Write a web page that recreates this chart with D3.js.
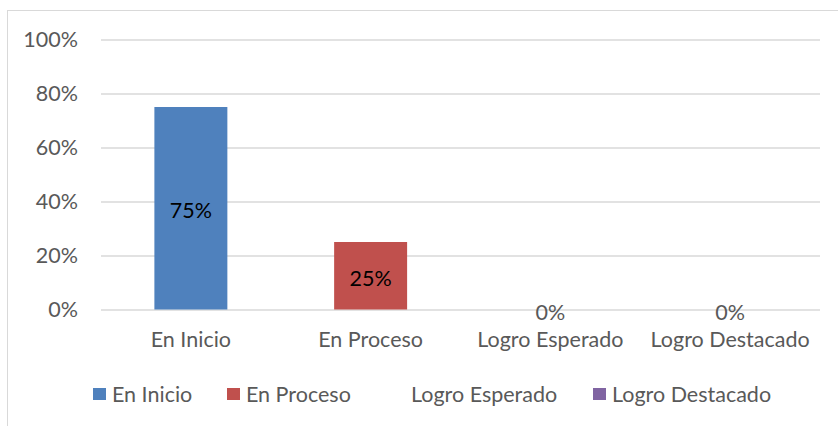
<!DOCTYPE html>
<html>
<head>
<meta charset="utf-8">
<script src="https://cdn.jsdelivr.net/npm/d3@7"></script>
<style>
  body { margin: 0; background: #fff; }
  text { font-family: Lato, "Open Sans", sans-serif; }
</style>
</head>
<body>
<div id="chart"></div>
<script>
// data
var categories = ["En Inicio", "En Proceso", "Logro Esperado", "Logro Destacado"];
var values = [0.75, 0.25, 0, 0];
var colors = ["#4f81bd", "#c0504d", "#ffffff", "#8064a2"];
var yTicks = [0, 0.2, 0.4, 0.6, 0.8, 1.0];

var svgWidth = 838, svgHeight = 426;
var margin = {top: 39.5, right: 18, bottom: 116.5, left: 101};
var chartWidth = svgWidth - margin.left - margin.right;
var chartHeight = svgHeight - margin.top - margin.bottom;
var fontSize = "21.5px";

var svg = d3.select("#chart").append("svg")
  .attr("width", svgWidth)
  .attr("height", svgHeight);

// chart frame (only left and top edges fall inside the picture)
svg.append("rect")
  .attr("x", 7.5).attr("y", 10.5)
  .attr("width", 900).attr("height", 600)
  .attr("fill", "none")
  .attr("stroke", "#d9d9d9");

var chart = svg.append("g")
  .attr("transform", "translate(" + margin.left + "," + margin.top + ")");

var x = d3.scaleBand().domain(categories).range([0, chartWidth]).paddingInner(0.594).paddingOuter(0.297);
var y = d3.scaleLinear().domain([0, 1]).range([chartHeight, 0]);

// gridlines
chart.append("g").selectAll("line")
  .data(yTicks)
  .enter().append("line")
  .attr("x1", 0).attr("x2", chartWidth)
  .attr("y1", function(d) { return Math.round(y(d)) + 0.5; })
  .attr("y2", function(d) { return Math.round(y(d)) + 0.5; })
  .attr("stroke", "#d9d9d9")
  .attr("stroke-width", 1.3);

// y axis labels
var leftAxis = d3.axisLeft(y).tickValues(yTicks).tickFormat(d3.format(".0%")).tickSize(0).tickPadding(23);
var yAxis = chart.append("g").call(leftAxis);
yAxis.select(".domain").remove();
yAxis.selectAll("text")
  .attr("fill", "#595959")
  .style("font-size", fontSize)
  .style("font-family", "Lato, 'Open Sans', sans-serif");

// bars
chart.selectAll(".bar")
  .data(values)
  .enter().append("rect")
  .attr("class", "bar")
  .attr("x", function(d, i) { return x(categories[i]); })
  .attr("y", function(d) { return y(d); })
  .attr("width", x.bandwidth())
  .attr("height", function(d) { return chartHeight - y(d); })
  .attr("fill", function(d, i) { return colors[i]; });

// value labels
chart.selectAll(".val")
  .data(values)
  .enter().append("text")
  .attr("class", "val")
  .attr("x", function(d, i) { return x(categories[i]) + x.bandwidth() / 2; })
  .attr("y", function(d) { return (y(d) + y(0)) / 2 + 2; })
  .attr("text-anchor", "middle")
  .attr("dominant-baseline", "central")
  .attr("fill", function(d) { return d > 0 ? "#000" : "#595959"; })
  .style("font-size", fontSize)
  .text(function(d) { return d3.format(".0%")(d); });

// category labels
var bottomAxis = d3.axisBottom(x).tickSize(0).tickPadding(22);
var xAxis = chart.append("g")
  .attr("transform", "translate(0," + chartHeight + ")")
  .call(bottomAxis);
xAxis.select(".domain").remove();
xAxis.selectAll("text")
  .attr("fill", "#595959")
  .style("font-size", fontSize)
  .style("font-family", "Lato, 'Open Sans', sans-serif");

// legend
var legendX = [93, 227, 392, 593];
var legend = svg.append("g").selectAll("g")
  .data(categories)
  .enter().append("g")
  .attr("transform", function(d, i) { return "translate(" + legendX[i] + ",388)"; });

legend.append("rect")
  .attr("width", 13).attr("height", 12)
  .attr("fill", function(d, i) { return colors[i]; });

legend.append("text")
  .attr("x", 19).attr("y", 6)
  .attr("dominant-baseline", "central")
  .attr("fill", "#595959")
  .style("font-size", fontSize)
  .text(function(d) { return d; });
</script>
</body>
</html>
